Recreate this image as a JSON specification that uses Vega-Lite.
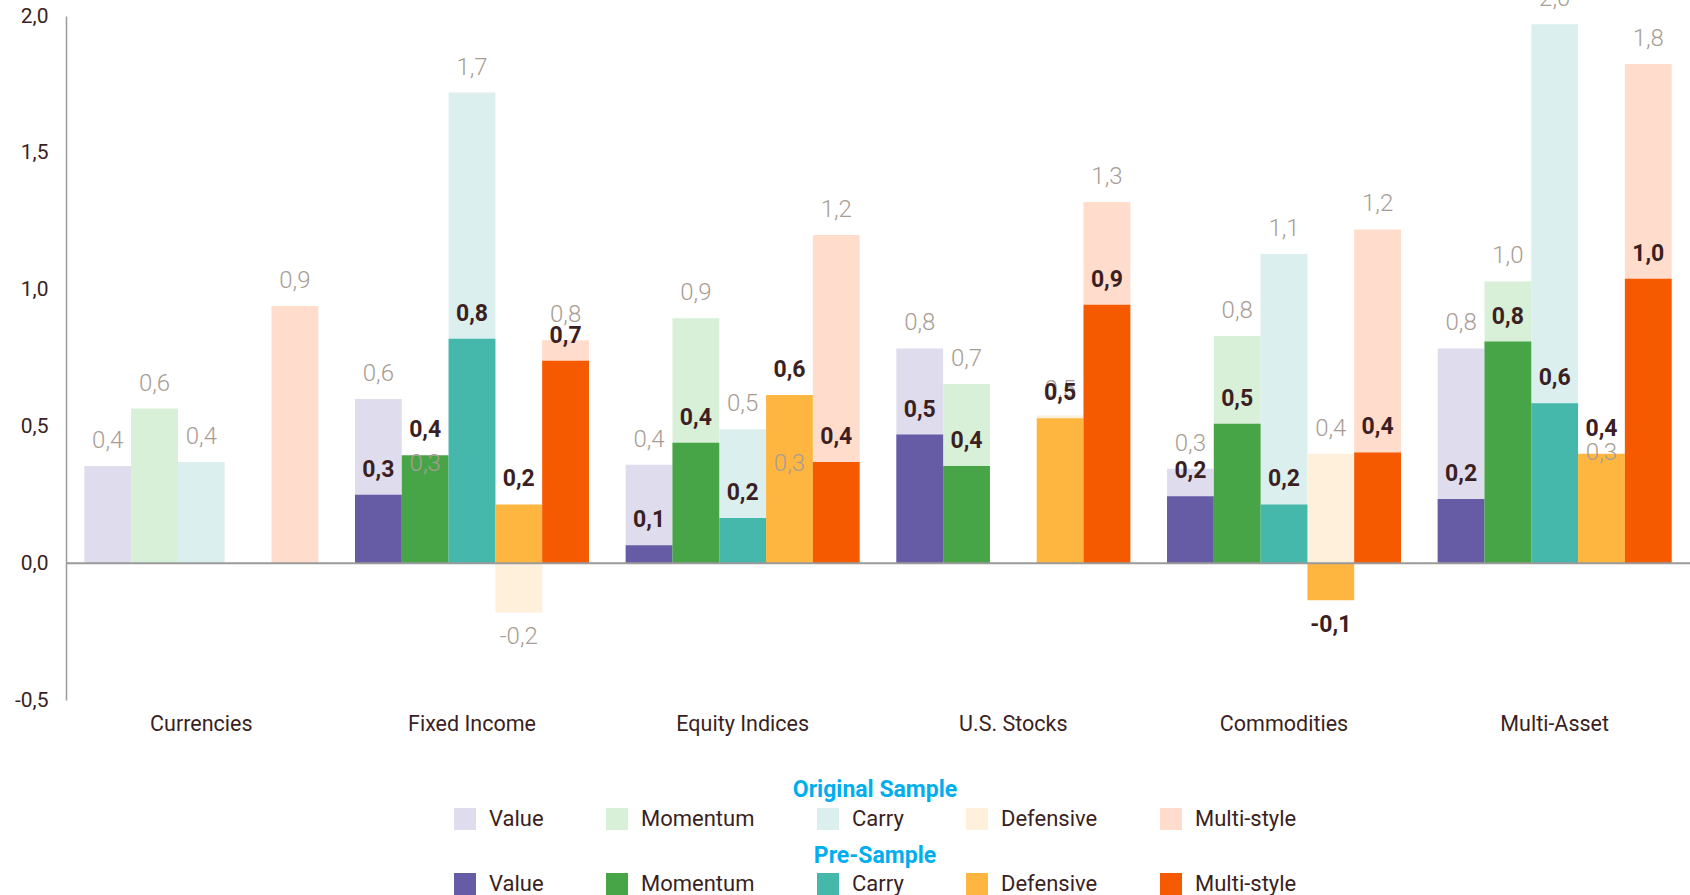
{
  "$schema": "https://vega.github.io/schema/vega-lite/v6.json",
  "width": 1624,
  "height": 684,
  "autosize": {"type": "none"},
  "padding": {"left": 66, "top": 16, "right": 0, "bottom": 195},
  "config": {
    "locale": {"number": {"decimal": ",", "thousands": ".", "grouping": [3], "currency": ["", " €"], "minus": "-"}},
    "font": "Roboto",
    "view": {"stroke": null}
  },
  "data": {
    "values": [
      {"category": "Currencies", "style": "Value", "sample": "Original", "value": 0.355},
      {"category": "Currencies", "style": "Momentum", "sample": "Original", "value": 0.565},
      {"category": "Currencies", "style": "Carry", "sample": "Original", "value": 0.37},
      {"category": "Currencies", "style": "Multi-style", "sample": "Original", "value": 0.94},
      {"category": "Fixed Income", "style": "Value", "sample": "Original", "value": 0.6},
      {"category": "Fixed Income", "style": "Momentum", "sample": "Original", "value": 0.27},
      {"category": "Fixed Income", "style": "Carry", "sample": "Original", "value": 1.72},
      {"category": "Fixed Income", "style": "Defensive", "sample": "Original", "value": -0.18},
      {"category": "Fixed Income", "style": "Multi-style", "sample": "Original", "value": 0.815},
      {"category": "Equity Indices", "style": "Value", "sample": "Original", "value": 0.36},
      {"category": "Equity Indices", "style": "Momentum", "sample": "Original", "value": 0.895},
      {"category": "Equity Indices", "style": "Carry", "sample": "Original", "value": 0.49},
      {"category": "Equity Indices", "style": "Defensive", "sample": "Original", "value": 0.27},
      {"category": "Equity Indices", "style": "Multi-style", "sample": "Original", "value": 1.2},
      {"category": "U.S. Stocks", "style": "Value", "sample": "Original", "value": 0.785},
      {"category": "U.S. Stocks", "style": "Momentum", "sample": "Original", "value": 0.655},
      {"category": "U.S. Stocks", "style": "Defensive", "sample": "Original", "value": 0.54},
      {"category": "U.S. Stocks", "style": "Multi-style", "sample": "Original", "value": 1.32},
      {"category": "Commodities", "style": "Value", "sample": "Original", "value": 0.345},
      {"category": "Commodities", "style": "Momentum", "sample": "Original", "value": 0.83},
      {"category": "Commodities", "style": "Carry", "sample": "Original", "value": 1.13},
      {"category": "Commodities", "style": "Defensive", "sample": "Original", "value": 0.4},
      {"category": "Commodities", "style": "Multi-style", "sample": "Original", "value": 1.22},
      {"category": "Multi-Asset", "style": "Value", "sample": "Original", "value": 0.785},
      {"category": "Multi-Asset", "style": "Momentum", "sample": "Original", "value": 1.03},
      {"category": "Multi-Asset", "style": "Carry", "sample": "Original", "value": 1.97},
      {"category": "Multi-Asset", "style": "Defensive", "sample": "Original", "value": 0.31},
      {"category": "Multi-Asset", "style": "Multi-style", "sample": "Original", "value": 1.825},
      {"category": "Fixed Income", "style": "Value", "sample": "Pre", "value": 0.25},
      {"category": "Fixed Income", "style": "Momentum", "sample": "Pre", "value": 0.395},
      {"category": "Fixed Income", "style": "Carry", "sample": "Pre", "value": 0.82},
      {"category": "Fixed Income", "style": "Defensive", "sample": "Pre", "value": 0.215},
      {"category": "Fixed Income", "style": "Multi-style", "sample": "Pre", "value": 0.74},
      {"category": "Equity Indices", "style": "Value", "sample": "Pre", "value": 0.066},
      {"category": "Equity Indices", "style": "Momentum", "sample": "Pre", "value": 0.44},
      {"category": "Equity Indices", "style": "Carry", "sample": "Pre", "value": 0.165},
      {"category": "Equity Indices", "style": "Defensive", "sample": "Pre", "value": 0.615},
      {"category": "Equity Indices", "style": "Multi-style", "sample": "Pre", "value": 0.37},
      {"category": "U.S. Stocks", "style": "Value", "sample": "Pre", "value": 0.47},
      {"category": "U.S. Stocks", "style": "Momentum", "sample": "Pre", "value": 0.355},
      {"category": "U.S. Stocks", "style": "Defensive", "sample": "Pre", "value": 0.53},
      {"category": "U.S. Stocks", "style": "Multi-style", "sample": "Pre", "value": 0.945},
      {"category": "Commodities", "style": "Value", "sample": "Pre", "value": 0.245},
      {"category": "Commodities", "style": "Momentum", "sample": "Pre", "value": 0.51},
      {"category": "Commodities", "style": "Carry", "sample": "Pre", "value": 0.215},
      {"category": "Commodities", "style": "Defensive", "sample": "Pre", "value": -0.135},
      {"category": "Commodities", "style": "Multi-style", "sample": "Pre", "value": 0.405},
      {"category": "Multi-Asset", "style": "Value", "sample": "Pre", "value": 0.235},
      {"category": "Multi-Asset", "style": "Momentum", "sample": "Pre", "value": 0.81},
      {"category": "Multi-Asset", "style": "Carry", "sample": "Pre", "value": 0.585},
      {"category": "Multi-Asset", "style": "Defensive", "sample": "Pre", "value": 0.4},
      {"category": "Multi-Asset", "style": "Multi-style", "sample": "Pre", "value": 1.04}
    ]
  },
  "layer": [
    {
      "transform": [{"filter": "datum.sample === 'Original'"}],
      "mark": {"type": "bar"},
      "encoding": {
        "x": {"field": "category", "type": "nominal", "sort": ["Currencies", "Fixed Income", "Equity Indices", "U.S. Stocks", "Commodities", "Multi-Asset"], "scale": {"paddingInner": 0.1355, "paddingOuter": 0.0677}, "axis": {"title": null, "domain": false, "ticks": false, "labelAngle": 0, "labelFontSize": 21.5, "labelColor": "#3b1f22", "labelPadding": 13}},
        "xOffset": {"field": "style", "type": "nominal", "scale": {"domain": ["Value", "Momentum", "Carry", "Defensive", "Multi-style"], "paddingInner": 0, "paddingOuter": 0}},
        "y": {"field": "value", "type": "quantitative", "scale": {"domain": [-0.5, 2], "nice": false, "zero": false}, "axis": {"title": null, "values": [-0.5, 0, 0.5, 1, 1.5, 2], "format": ".1f", "grid": false, "ticks": false, "domainColor": "#9a9a9a", "domainWidth": 1.5, "labelFontSize": 21, "labelColor": "#3b1f22", "labelPadding": 18}},
        "color": {"field": "style", "type": "nominal", "scale": {"domain": ["Value", "Momentum", "Carry", "Defensive", "Multi-style"], "range": ["#dfdded", "#d8efd8", "#dbf0ee", "#fff0dc", "#ffdccb"]},
          "legend": {"title": "Original Sample", "orient": "none", "legendX": 388, "legendY": 763, "direction": "horizontal", "columns": 5, "titleAnchor": "middle", "titleOrient": "top", "titleFontSize": 23, "titleFontWeight": "bold", "titleColor": "#00aeef", "titlePadding": 6, "labelFontSize": 22, "labelColor": "#3b1f22", "symbolType": "square", "symbolSize": 484, "symbolStrokeWidth": 0, "labelOffset": 13, "columnPadding": 62}}
      }
    },
    {
      "transform": [{"filter": "datum.sample === 'Pre'"}],
      "mark": {"type": "bar"},
      "encoding": {
        "x": {"field": "category", "type": "nominal", "sort": ["Currencies", "Fixed Income", "Equity Indices", "U.S. Stocks", "Commodities", "Multi-Asset"]},
        "xOffset": {"field": "style", "type": "nominal"},
        "y": {"field": "value", "type": "quantitative"},
        "color": {"field": "style", "type": "nominal", "scale": {"domain": ["Value", "Momentum", "Carry", "Defensive", "Multi-style"], "range": ["#665ca5", "#47a547", "#45b8ab", "#ffb640", "#f55a00"]},
          "legend": {"title": "Pre-Sample", "orient": "none", "legendX": 388, "legendY": 829, "direction": "horizontal", "columns": 5, "titleAnchor": "middle", "titleOrient": "top", "titleFontSize": 23, "titleFontWeight": "bold", "titleColor": "#00aeef", "titlePadding": 5, "labelFontSize": 22, "labelColor": "#3b1f22", "symbolType": "square", "symbolSize": 484, "symbolStrokeWidth": 0, "labelOffset": 13, "columnPadding": 62}}
      }
    },
    {
      "data": {"values": [{"line": "zero"}]},
      "mark": {"type": "rule", "color": "#9a9a9a", "strokeWidth": 2},
      "encoding": {"y": {"datum": 0}}
    },
    {
      "transform": [{"filter": "datum.sample === 'Original' && datum.value >= 0"}],
      "mark": {"type": "text", "baseline": "middle", "dy": -25, "fontSize": 24, "fontWeight": 300, "color": "#a89d95"},
      "encoding": {
        "x": {"field": "category", "type": "nominal", "sort": ["Currencies", "Fixed Income", "Equity Indices", "U.S. Stocks", "Commodities", "Multi-Asset"]},
        "xOffset": {"field": "style", "type": "nominal"},
        "y": {"field": "value", "type": "quantitative"},
        "text": {"field": "value", "type": "quantitative", "format": ".1f"}
      }
    },
    {
      "transform": [{"filter": "datum.sample === 'Original' && datum.value < 0"}],
      "mark": {"type": "text", "baseline": "middle", "dy": 25, "fontSize": 24, "fontWeight": 300, "color": "#a89d95"},
      "encoding": {
        "x": {"field": "category", "type": "nominal", "sort": ["Currencies", "Fixed Income", "Equity Indices", "U.S. Stocks", "Commodities", "Multi-Asset"]},
        "xOffset": {"field": "style", "type": "nominal"},
        "y": {"field": "value", "type": "quantitative"},
        "text": {"field": "value", "type": "quantitative", "format": ".1f"}
      }
    },
    {
      "transform": [{"filter": "datum.sample === 'Pre' && datum.value >= 0"}],
      "mark": {"type": "text", "baseline": "middle", "dy": -25, "fontSize": 23, "fontWeight": "bold", "color": "#3b1f22"},
      "encoding": {
        "x": {"field": "category", "type": "nominal", "sort": ["Currencies", "Fixed Income", "Equity Indices", "U.S. Stocks", "Commodities", "Multi-Asset"]},
        "xOffset": {"field": "style", "type": "nominal"},
        "y": {"field": "value", "type": "quantitative"},
        "text": {"field": "value", "type": "quantitative", "format": ".1f"}
      }
    },
    {
      "transform": [{"filter": "datum.sample === 'Pre' && datum.value < 0"}],
      "mark": {"type": "text", "baseline": "middle", "dy": 25, "fontSize": 23, "fontWeight": "bold", "color": "#3b1f22"},
      "encoding": {
        "x": {"field": "category", "type": "nominal", "sort": ["Currencies", "Fixed Income", "Equity Indices", "U.S. Stocks", "Commodities", "Multi-Asset"]},
        "xOffset": {"field": "style", "type": "nominal"},
        "y": {"field": "value", "type": "quantitative"},
        "text": {"field": "value", "type": "quantitative", "format": ".1f"}
      }
    }
  ],
  "resolve": {"scale": {"color": "independent"}}
}
